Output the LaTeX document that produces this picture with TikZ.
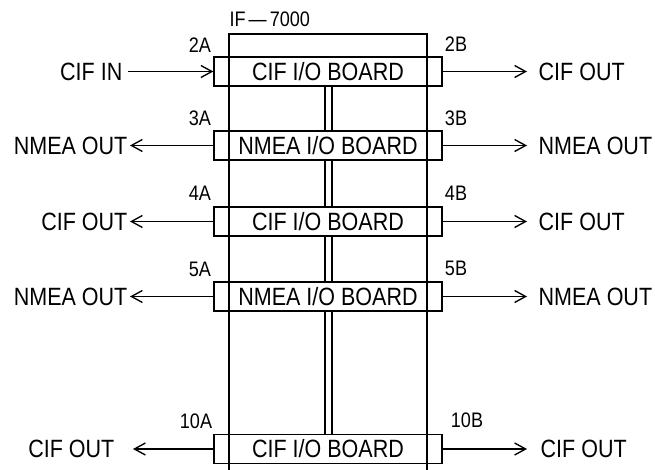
\documentclass[tikz,border=0pt]{standalone}
\usepackage{fontspec}
\setmainfont{Liberation Sans}[FakeStretch=0.86]
\usetikzlibrary{arrows.meta}
\begin{document}
\begin{tikzpicture}[x=1pt,y=-1pt,line width=1.35pt,
  board/.style={draw,minimum width=228pt,minimum height=29pt,inner sep=0pt,font=\fontsize{25}{27}\selectfont},
  lbl/.style={inner sep=0pt,font=\fontsize{25}{27}\selectfont},
  port/.style={inner sep=0pt,font=\fontsize{21}{23}\selectfont},
  arr/.style={-{Straight Barb[length=11pt,width=12pt]}}]
\useasboundingbox (0,0) rectangle (655,470);
% outer IF-7000 frame
\coordinate (fBL) at (229,470);
\coordinate (fTL) at (229,34);
\coordinate (fTR) at (427,34);
\coordinate (fBR) at (427,470);
\draw (fBL) -- (fTL) -- (fTR) -- (fBR);
\node[port,anchor=west] (iflbl) at (229,19) {IF\kern3pt—\kern3pt7000};
% boards
\node[board] (b1) at (328,71.5) {CIF I/O BOARD};
\node[board] (b2) at (328,145.5) {NMEA I/O BOARD};
\node[board] (b3) at (328,221.5) {CIF I/O BOARD};
\node[board] (b4) at (328,296.5) {NMEA I/O BOARD};
\node[board] (b5) at (328,449) {CIF I/O BOARD};
% bus
\coordinate (busL) at (325,0);
\coordinate (busR) at (332,0);
\foreach \a/\b in {b1/b2,b2/b3,b3/b4,b4/b5}{
  \draw (\a.south -| busL) -- (\b.north -| busL);
  \draw (\a.south -| busR) -- (\b.north -| busR);
}
% port labels
\node[port] (p2a) at (200,45) {2A};
\node[port] (p2b) at (456,44) {2B};
\node[port] (p3a) at (200,118) {3A};
\node[port] (p3b) at (456,118) {3B};
\node[port] (p4a) at (200,193) {4A};
\node[port] (p4b) at (456,193) {4B};
\node[port] (p5a) at (200,269) {5A};
\node[port] (p5b) at (456,268) {5B};
\node[port] (p10a) at (196,421) {10A};
\node[port] (p10b) at (467,420) {10B};
% left side
\node[lbl,anchor=east] (l1) at (123,71.5) {CIF IN};
\node[lbl,anchor=east] (l2) at (128,145.5) {NMEA OUT};
\node[lbl,anchor=east] (l3) at (128,221.5) {CIF OUT};
\node[lbl,anchor=east] (l4) at (128,296.5) {NMEA OUT};
\node[lbl,anchor=east] (l5) at (115,449) {CIF OUT};
\draw[arr] ([xshift=5pt]l1.east) -- (b1.west);
\draw[arr] (b2.west) -- ([xshift=2pt]l2.east);
\draw[arr] (b3.west) -- ([xshift=2pt]l3.east);
\draw[arr] (b4.west) -- ([xshift=2pt]l4.east);
\draw[arr] (b5.west) -- ([xshift=18pt]l5.east);
% right side
\node[lbl,anchor=west] (r1) at (538,71.5) {CIF OUT};
\node[lbl,anchor=west] (r2) at (538,145.5) {NMEA OUT};
\node[lbl,anchor=west] (r3) at (538,221.5) {CIF OUT};
\node[lbl,anchor=west] (r4) at (538,296.5) {NMEA OUT};
\node[lbl,anchor=west] (r5) at (540,449) {CIF OUT};
\draw[arr] (b1.east) -- ([xshift=-11pt]r1.west);
\draw[arr] (b2.east) -- ([xshift=-11pt]r2.west);
\draw[arr] (b3.east) -- ([xshift=-11pt]r3.west);
\draw[arr] (b4.east) -- ([xshift=-11pt]r4.west);
\draw[arr] (b5.east) -- ([xshift=-13pt]r5.west);
\end{tikzpicture}
\end{document}
